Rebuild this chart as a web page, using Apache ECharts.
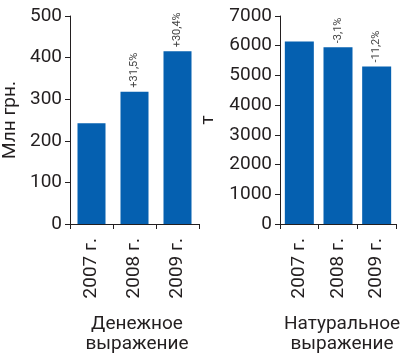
<!DOCTYPE html>
<html><head><meta charset="utf-8">
<script src="https://cdn.jsdelivr.net/npm/echarts@6/dist/echarts.min.js"></script>
<style>html,body{margin:0;padding:0;background:#fff}#c{width:400px;height:357px}</style>
</head><body><div id="c"></div>
<script>
var categories = ['2007 г.', '2008 г.', '2009 г.'];
var moneyValues = [242, 318, 415];
var moneyLabels = ['', '+31,5%', '+30,4%'];
var volumeValues = [6140, 5950, 5300];
var volumeLabels = ['', '-3,1%', '-11,2%'];
var moneyTicks = {min: 0, max: 500, interval: 100};
var volumeTicks = {min: 0, max: 7000, interval: 1000};

var FONT = 'Roboto';
var TXT = '#231f20';
var BLUE = '#0560b0';
var chart = echarts.init(document.getElementById('c'));

function xAxis(idx){
  return {
    type: 'category', gridIndex: idx, data: categories,
    axisLine: {lineStyle: {color: TXT, width: 1}},
    axisTick: {show: true, length: 5, inside: false, lineStyle: {color: TXT}},
    axisLabel: {rotate: 90, margin: 14, fontSize: 19, color: TXT, fontFamily: FONT}
  };
}
function yAxis(idx, t, name, gap){
  return {
    type: 'value', gridIndex: idx, min: t.min, max: t.max, interval: t.interval,
    name: name, nameLocation: 'middle', nameGap: gap, nameRotate: 90,
    nameTextStyle: {fontSize: 19, color: TXT, fontFamily: FONT},
    axisLine: {show: true, lineStyle: {color: TXT, width: 1}},
    axisTick: {show: true, length: 5, lineStyle: {color: TXT}},
    splitLine: {show: false},
    axisLabel: {margin: 8, fontSize: 19, color: TXT, fontFamily: FONT,
      formatter: function(v){ return String(v); }}
  };
}
function barSeries(idx, vals, labels, bw){
  return {
    type: 'bar', xAxisIndex: idx, yAxisIndex: idx, data: vals, barWidth: bw,
    itemStyle: {color: BLUE},
    label: {show: true, position: 'top', rotate: 90, align: 'left', verticalAlign: 'middle',
      distance: 4, fontSize: 11, color: '#444', fontFamily: FONT,
      formatter: function(p){ return labels[p.dataIndex]; }}
  };
}
chart.setOption({
  animation: false,
  grid: [
    {left: 69, top: 16, width: 130, height: 208},
    {left: 280, top: 16, width: 116, height: 208}
  ],
  xAxis: [xAxis(0), xAxis(1)],
  yAxis: [yAxis(0, moneyTicks, 'Млн грн.', 50), yAxis(1, volumeTicks, 'т', 62)],
  series: [barSeries(0, moneyValues, moneyLabels, 28), barSeries(1, volumeValues, volumeLabels, 29)],
  title: [
    {text: 'Денежное\nвыражение', left: 132, top: 309, textAlign: 'center',
      textStyle: {fontSize: 19, fontWeight: 'normal', color: TXT, fontFamily: FONT, lineHeight: 20}},
    {text: 'Натуральное\nвыражение', left: 337, top: 309, textAlign: 'center',
      textStyle: {fontSize: 19, fontWeight: 'normal', color: TXT, fontFamily: FONT, lineHeight: 20}}
  ]
});
</script></body></html>
